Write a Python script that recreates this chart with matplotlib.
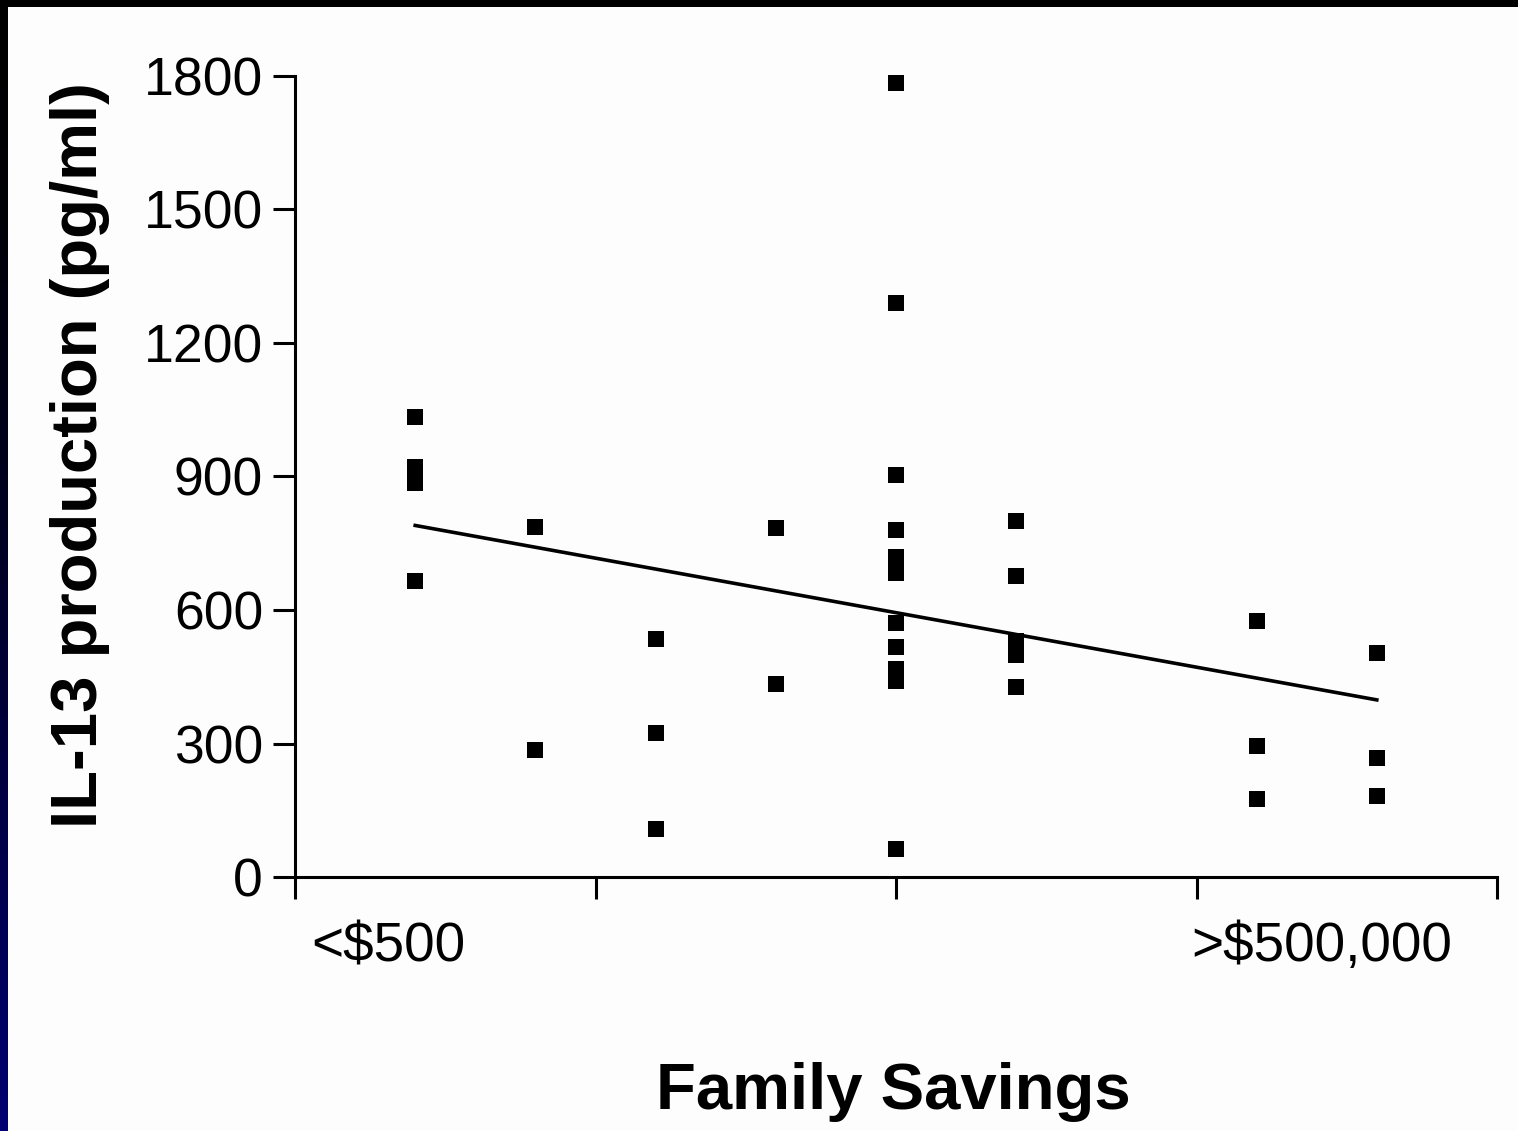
import numpy as np
import matplotlib.pyplot as plt
from matplotlib.patches import Rectangle

plt.rcParams['font.family'] = ['Liberation Sans', 'DejaVu Sans']

# family savings category (position on axis) and IL-13 values
x_pos = [1, 1, 1, 1,
         2, 2,
         3, 3, 3,
         4, 4,
         5, 5, 5, 5, 5, 5, 5, 5, 5, 5, 5,
         6, 6, 6, 6, 6,
         8, 8, 8,
         9, 9, 9]
il13 = [1033, 922, 886, 666,
        787, 286,
        535, 324, 108,
        785, 434,
        1784, 1291, 904, 780, 720, 684, 571, 517, 468, 441, 63,
        801, 677, 531, 500, 428,
        576, 295, 175,
        504, 268, 182]

# regression line end points
fit_x = [1, 9]
fit_y = [790, 398]

y_ticks = [0, 300, 600, 900, 1200, 1500, 1800]
x_ticks = [0, 2.5, 5, 7.5, 10]
end_labels = ['<$500', '>$500,000']
end_label_pos = [0.78, 8.54]

W, H = 1518, 1131
fig = plt.figure(figsize=(W / 100, H / 100), dpi=100)
fig.patch.set_facecolor('black')

# white slide area (behind everything)
fig.patches.append(Rectangle((8 / W, 0), 1 - 8 / W, 1 - 7 / H, transform=fig.transFigure,
                             facecolor='#fdfdfd', edgecolor='none', zorder=-5))
# dark left strip, black going to navy
strip = fig.add_axes([0, 0, 8 / W, 1 - 7 / H])
grad = np.linspace(0, 1, 256).reshape(-1, 1)
strip.imshow(np.dstack([grad * 0, grad * 0, grad ** 1.5 * 0.45]), aspect='auto', origin='upper')
strip.axis('off')

ax = fig.add_axes([295 / W, (H - 877) / H, (1497 - 295) / W, (877 - 76) / H])
ax.set_facecolor('none')

ax.plot(x_pos, il13, 's', color='black', markersize=11.8, markeredgewidth=0, clip_on=False)
ax.plot(fit_x, fit_y, '-', color='black', linewidth=2.6)

ax.set_xlim(0, 10)
ax.set_ylim(0, 1800)
ax.set_yticks(y_ticks)
ax.set_yticklabels([str(v) for v in y_ticks])
ax.set_xticks(x_ticks)
ax.set_xticklabels([])

for s in ['top', 'right']:
    ax.spines[s].set_visible(False)
for s in ['left', 'bottom']:
    ax.spines[s].set_linewidth(2.2)

ax.tick_params(axis='both', direction='out', length=16, width=2.2, labelsize=38.5, pad=7)

tr = ax.get_xaxis_transform()
for lab, p in zip(end_labels, end_label_pos):
    ax.text(p, -0.088, lab, transform=tr, ha='center', va='center', fontsize=39.5)

fig.text(80 / W, 1 - 455 / H, 'IL-13 production (pg/ml)', rotation=90, ha='center', va='center',
         fontsize=47, fontweight='bold')
fig.text(893 / W, 1 - 1092 / H, 'Family Savings', ha='center', va='center',
         fontsize=47, fontweight='bold')

fig.savefig('out.png', dpi=100, facecolor=fig.get_facecolor())
